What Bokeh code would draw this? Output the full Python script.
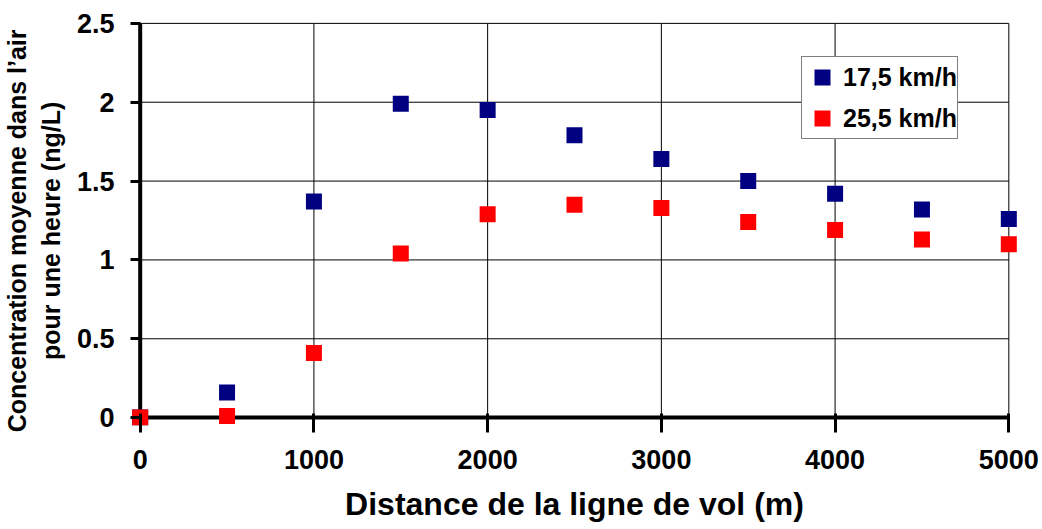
from bokeh.plotting import figure
from bokeh.models import (Range1d, FixedTicker, Legend, LegendItem,
                          NumeralTickFormatter)
from bokeh.embed import file_html
from bokeh.resources import INLINE

# ---- data ----
DISTANCE = [0, 500, 1000, 1500, 2000, 2500, 3000, 3500, 4000, 4500, 5000]
CONC_17_5 = [0.0, 0.16, 1.37, 1.99, 1.95, 1.79, 1.64, 1.50, 1.42, 1.32, 1.26]
CONC_25_5 = [0.0, 0.01, 0.41, 1.04, 1.29, 1.35, 1.33, 1.24, 1.19, 1.13, 1.10]
SERIES_LABELS = ["17,5 km/h", "25,5 km/h"]
SERIES_COLORS = ["#000080", "#FF0000"]
X_TICKS = [0, 1000, 2000, 3000, 4000, 5000]
Y_TICKS = [0, 0.5, 1, 1.5, 2, 2.5]
X_LABEL = "Distance de la ligne de vol (m)"
Y_LABEL_LINES = ["Concentration moyenne dans l\u2019air", "pour une heure (ng/L)"]

FONT = "Liberation Sans"
X_PAD = 50
Y_PAD = 0.05
NBSP_PAD = "\u00a0" * 3   # nudges the centred y title slightly downwards

p = figure(width=1042, height=529,
           x_range=Range1d(X_TICKS[0] - X_PAD, X_TICKS[-1] + X_PAD),
           y_range=Range1d(Y_TICKS[0] - Y_PAD, Y_TICKS[-1] + Y_PAD),
           output_backend="svg", toolbar_location=None,
           min_border_left=130, min_border_right=25,
           min_border_top=15, min_border_bottom=104)
p.grid.visible = False
p.outline_line_color = None
p.background_fill_color = "white"
p.border_fill_color = "white"

# grid lines limited to the data area
nx, ny = len(X_TICKS), len(Y_TICKS)
p.segment(x0=X_TICKS, y0=[Y_TICKS[0]] * nx, x1=X_TICKS, y1=[Y_TICKS[-1]] * nx,
          line_color="black", line_width=1)
p.segment(x0=[X_TICKS[0]] * ny, y0=Y_TICKS, x1=[X_TICKS[-1]] * ny, y1=Y_TICKS,
          line_color="black", line_width=1)
# heavy axis lines at x=0 and y=0
p.segment(x0=[X_TICKS[0], X_TICKS[0]], y0=[Y_TICKS[0], Y_TICKS[0]],
          x1=[X_TICKS[0], X_TICKS[-1]], y1=[Y_TICKS[-1], Y_TICKS[0]],
          line_color="black", line_width=4)

r1 = p.scatter(DISTANCE, CONC_17_5, marker="square", size=16,
               fill_color=SERIES_COLORS[0], line_color=None)
r2 = p.scatter(DISTANCE, CONC_25_5, marker="square", size=16,
               fill_color=SERIES_COLORS[1], line_color=None)

# axes
xa = p.xaxis[0]
xa.ticker = FixedTicker(ticks=X_TICKS)
xa.formatter = NumeralTickFormatter(format="0")
xa.axis_line_color = None
xa.major_tick_in = 12
xa.major_tick_out = 7
xa.major_tick_line_width = 3
xa.minor_tick_line_color = None
xa.major_label_standoff = 17
xa.major_label_text_font = FONT
xa.major_label_text_font_style = "bold"
xa.major_label_text_font_size = "27px"
xa.major_label_text_color = "black"
xa.axis_label = X_LABEL
xa.axis_label_text_font = FONT
xa.axis_label_text_font_style = "bold"
xa.axis_label_text_font_size = "32px"
xa.axis_label_text_color = "black"
xa.axis_label_standoff = 14

ya = p.yaxis[0]
ya.ticker = FixedTicker(ticks=Y_TICKS)
ya.formatter = NumeralTickFormatter(format="0.[0]")
ya.axis_line_color = None
ya.major_tick_in = 9
ya.major_tick_out = 1
ya.major_tick_line_width = 3
ya.minor_tick_line_color = None
ya.major_label_standoff = 16
ya.major_label_text_font = FONT
ya.major_label_text_font_style = "bold"
ya.major_label_text_font_size = "27px"
ya.major_label_text_color = "black"
ya.axis_label = "\n".join(line + NBSP_PAD for line in Y_LABEL_LINES)
ya.axis_label_text_font = FONT
ya.axis_label_text_font_style = "bold"
ya.axis_label_text_font_size = "25px"
ya.axis_label_text_color = "black"
ya.axis_label_text_line_height = 1.2
ya.axis_label_standoff = 9

legend = Legend(items=[LegendItem(label=SERIES_LABELS[0], renderers=[r1]),
                       LegendItem(label=SERIES_LABELS[1], renderers=[r2])],
                location=(670, 286), glyph_width=40, glyph_height=40,
                padding=0, spacing=1, label_standoff=1, margin=0,
                label_text_font=FONT, label_text_font_style="bold",
                label_text_font_size="25px", label_text_color="black",
                border_line_color="black", border_line_width=1.5,
                background_fill_color="white", background_fill_alpha=1.0)
p.add_layout(legend, "center")

open("out.html", "w").write(file_html(p, INLINE))
